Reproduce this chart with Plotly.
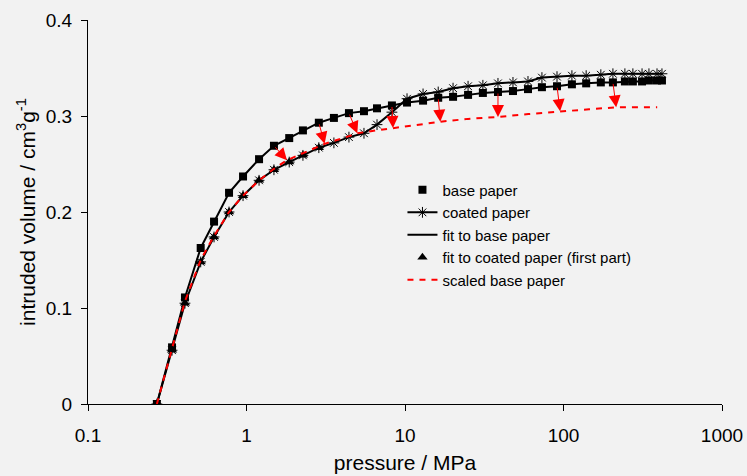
import numpy as np
import plotly.graph_objects as go

# pressures (MPa) of measurement points
pressure = [0.272, 0.339, 0.409, 0.514, 0.624, 0.776, 0.951, 1.20, 1.49, 1.86, 2.27, 2.86,
            3.56, 4.43, 5.51, 6.66, 8.27, 10.3, 13.0, 16.2, 20.1, 25.0, 31.0, 38.6, 48.0,
            59.7, 73.1, 91.0, 113, 139, 172, 205, 244, 274, 313, 346, 389, 418]
base_paper = [0.0, 0.059, 0.111, 0.1625, 0.190, 0.220, 0.237, 0.255, 0.269, 0.277, 0.285, 0.293,
              0.298, 0.303, 0.305, 0.308, 0.311, 0.314, 0.316, 0.319, 0.320, 0.322, 0.324, 0.325,
              0.326, 0.328, 0.330, 0.331, 0.333, 0.334, 0.335, 0.335, 0.336, 0.336, 0.336, 0.337,
              0.337, 0.337]
coated_paper = [0.0, 0.056, 0.105, 0.148, 0.174, 0.200, 0.217, 0.233, 0.244, 0.252, 0.259, 0.267,
                0.272, 0.278, 0.282, 0.291, 0.304, 0.318, 0.323, 0.325, 0.329, 0.331, 0.332, 0.334,
                0.335, 0.336, 0.340, 0.341, 0.342, 0.342, 0.343, 0.344, 0.344, 0.344, 0.344, 0.344,
                0.344, 0.344]
fit_base = base_paper
fit_coated_p = pressure[:12]
fit_coated_v = [0.0, 0.056, 0.105, 0.148, 0.174, 0.200, 0.217, 0.233, 0.244, 0.252, 0.259, 0.267]

scaled_p = [0.272, 0.339, 0.409, 0.514, 0.624, 0.776, 0.951, 1.20, 1.49, 1.80, 2.27, 3.11,
            3.9, 5.0, 6.6, 8.4, 12.5, 16.7, 25.0, 38.6, 60.0, 95.2, 145, 215, 390]
scaled_v = [0.0, 0.058, 0.107, 0.150, 0.175, 0.200, 0.217, 0.233, 0.245, 0.254, 0.261, 0.271,
            0.276, 0.282, 0.285, 0.2875, 0.291, 0.294, 0.297, 0.299, 0.302, 0.305, 0.307, 0.309,
            0.309]

# arrows: from base paper point to scaled point
arrow_from_p = [1.49, 2.86, 4.43, 8.27, 16.2, 38.6, 91.0, 205]
arrow_from_v = [0.269, 0.293, 0.303, 0.311, 0.319, 0.325, 0.331, 0.335]
arrow_to_p = [1.80, 3.11, 5.0, 8.4, 16.7, 38.6, 95.2, 215]
arrow_to_v = [0.254, 0.271, 0.282, 0.2875, 0.294, 0.299, 0.305, 0.309]

x_ticks = [0.1, 1, 10, 100, 1000]
x_tick_text = ["0.1", "1", "10", "100", "1000"]
y_ticks = [0, 0.1, 0.2, 0.3, 0.4]
y_tick_text = ["0", "0.1", "0.2", "0.3", "0.4"]

fig = go.Figure()
fig.add_trace(go.Scatter(x=pressure, y=coated_paper, name="coated paper", mode="lines+markers",
                         line=dict(color="black", width=2),
                         marker=dict(symbol="asterisk-open", size=9, color="black",
                                     line=dict(color="black", width=1)),
                         legendrank=2))
fig.add_trace(go.Scatter(x=pressure, y=fit_base, name="fit to base paper", mode="lines",
                         line=dict(color="black", width=2), legendrank=3))
fig.add_trace(go.Scatter(x=pressure, y=base_paper, name="base paper", mode="markers",
                         marker=dict(symbol="square", size=8, color="black"), legendrank=1))
fig.add_trace(go.Scatter(x=fit_coated_p, y=fit_coated_v, name="fit to coated paper (first part)",
                         mode="markers", marker=dict(symbol="triangle-up", size=9, color="black"),
                         legendrank=4))
fig.add_trace(go.Scatter(x=scaled_p, y=scaled_v, name="scaled base paper", mode="lines",
                         line=dict(color="red", width=2, dash="6px,6px"), legendrank=5))

for fp, fv, tp, tv in zip(arrow_from_p, arrow_from_v, arrow_to_p, arrow_to_v):
    fig.add_annotation(x=np.log10(tp), y=tv, ax=np.log10(fp), ay=fv, xref="x", yref="y",
                       axref="x", ayref="y", text="", showarrow=True, arrowhead=2,
                       arrowsize=2.4, arrowwidth=1, arrowcolor="red", standoff=0)

fig.update_layout(
    width=747, height=476,
    paper_bgcolor="#f2f2f2", plot_bgcolor="#f2f2f2",
    margin=dict(l=88, r=25, t=20, b=72),
    font=dict(family="Liberation Sans, Arial, sans-serif", color="black", size=19),
    showlegend=True,
    legend=dict(x=0.496, y=0.6, xanchor="left", yanchor="top", bgcolor="rgba(0,0,0,0)",
                font=dict(size=15), tracegroupgap=0, itemwidth=30),
)
fig.update_xaxes(type="log", range=[-1, 3], tickvals=x_ticks, ticktext=x_tick_text,
                 showline=True, linecolor="black", linewidth=1, ticks="outside", ticklen=6,
                 tickcolor="black", showgrid=False, zeroline=False, ticklabelstandoff=8,
                 automargin=False,
                 title=dict(text="pressure / MPa", font=dict(size=21), standoff=10))
fig.update_yaxes(range=[0, 0.4], tickvals=y_ticks, ticktext=y_tick_text,
                 showline=True, linecolor="black", linewidth=1, ticks="outside", ticklen=6,
                 tickcolor="black", showgrid=False, zeroline=False, ticklabelstandoff=5,
                 automargin=False,
                 title=dict(text="intruded volume / cm<sup>3</sup>g<sup>-1</sup>",
                            font=dict(size=21), standoff=4))

fig.write_html("out.html")
